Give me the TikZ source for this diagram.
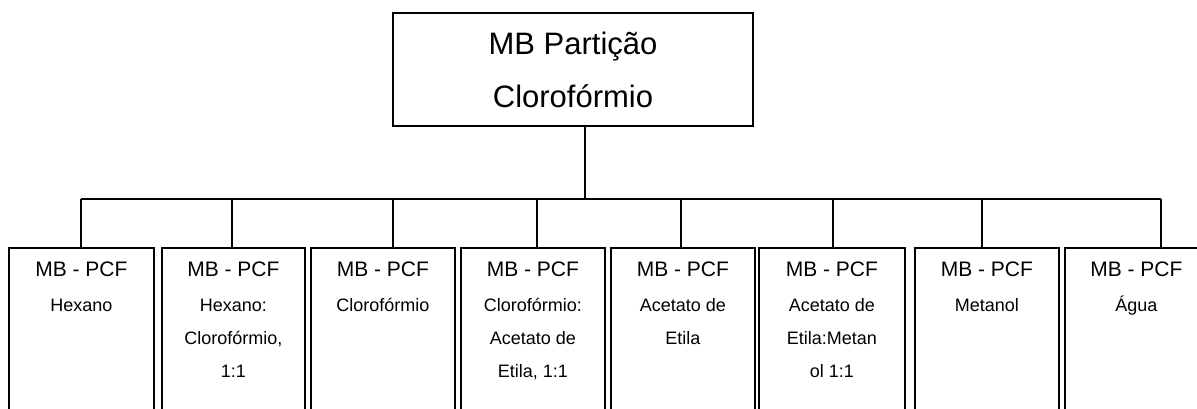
\documentclass[tikz,border=0pt]{standalone}
\usepackage{fontspec}
\setmainfont{Liberation Sans}
\usetikzlibrary{positioning}
\tikzset{
	link/.style = {line width = 1.8pt},
	leaf/.style = {draw, line width = 1.8pt, anchor = north west, minimum height = 220pt, inner sep = 0pt},
	leaftext/.style = {align = center, inner sep = 0pt, font = \fontsize{18}{33}\selectfont},
}
\newcommand{\leafhead}{{\fontsize{21}{33}\selectfont MB - PCF}\\[2pt]}

\begin{document}
\begin{tikzpicture}[x = 1pt, y = -1pt]
		\clip (0, 0) rectangle (1197, 408);
		\node [draw, line width = 1.8pt, minimum width = 360pt, minimum height = 113pt, align = center, font = \fontsize{31}{53}\selectfont] (root) at (573, 69.5) {MB Partição\\Clorofórmio};
		\coordinate (trunk) at ([xshift = 12pt]root.south);

		\foreach \i/\l/\r/\sx/\txt in {1/8/153/81/{Hexano},
				2/161/304/232/{Hexano:\\Clorofórmio,\\1:1},
				3/310/454/393/{Clorofórmio},
				4/460/604/537/{Clorofórmio:\\Acetato de\\Etila, 1:1},
				5/610/754/681/{Acetato de\\Etila},
				6/758/904/833/{Acetato de\\Etila:Metan\\ol 1:1},
				7/914/1058/982/{Metanol},
				8/1064/1207/1161/{Água}} {
			\node [leaf, minimum width = {(\r-\l)*1pt}] (b\i) at (\l, 247) {};
			\node [leaftext, below = 15pt of b\i.north] (t\i) {\leafhead \txt};
			\coordinate (s\i) at (\sx, 199);
			\draw [link] (s\i) -- (s\i |- b\i.north);
		}

		\draw [link] (trunk) -- (trunk |- s1);
		\draw [link] (s1) -- (s8);
	\end{tikzpicture}
\end{document}
